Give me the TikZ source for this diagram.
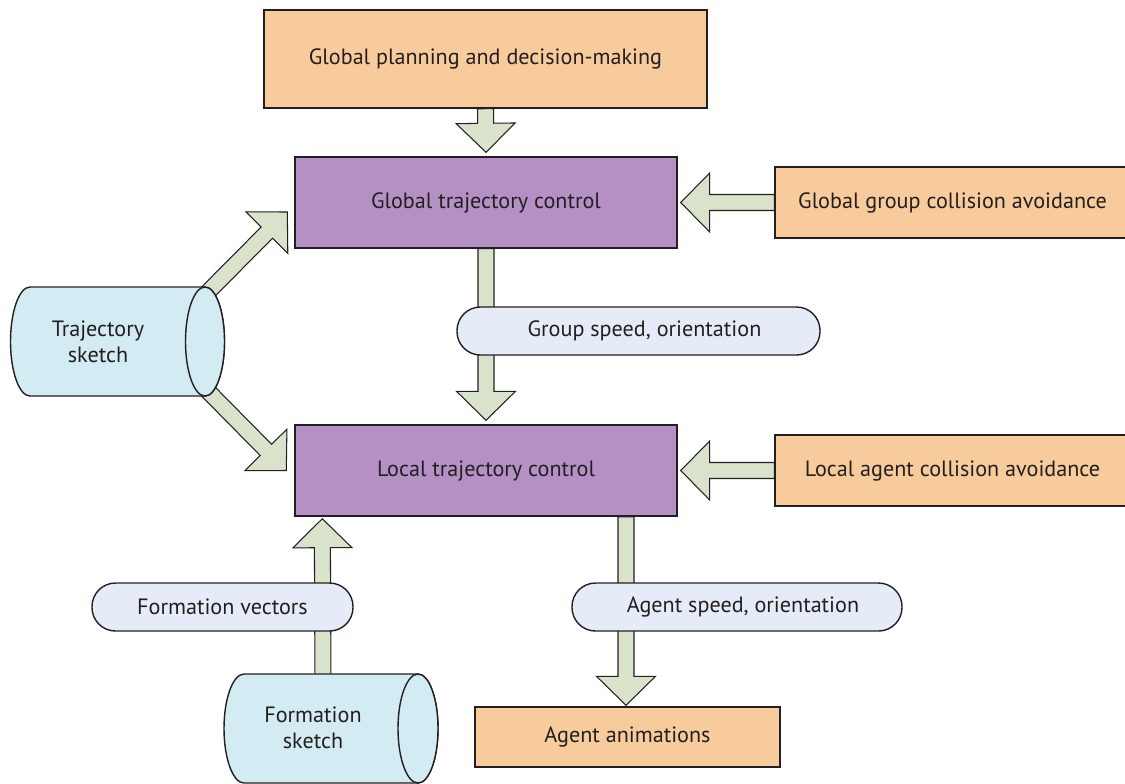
\documentclass[tikz,border=0pt]{standalone}
\usepackage{fontspec}
\setmainfont{PT Sans}
\usetikzlibrary{calc,backgrounds}
\definecolor{boxorange}{RGB}{247,203,156}
\definecolor{ctrlpurple}{RGB}{181,144,196}
\definecolor{pillblue}{RGB}{230,236,247}
\definecolor{cylblue}{RGB}{211,235,242}
\definecolor{arrowgreen}{RGB}{217,227,203}
\definecolor{edgegray}{RGB}{35,31,32}

\tikzset{
  every node/.style={font=\fontsize{12.6}{15}\selectfont, text=edgegray},
  planbox/.style={draw=edgegray, fill=boxorange, line width=0.8pt},
  ctrlbox/.style={draw=edgegray, fill=ctrlpurple, line width=0.8pt,
    minimum width=7.64cm, minimum height=1.82cm},
  collbox/.style={draw=edgegray, fill=boxorange, line width=0.8pt,
    minimum width=7.2cm, minimum height=1.42cm},
  infopill/.style={draw=edgegray, fill=pillblue, line width=0.8pt,
    rounded corners=0.47cm, minimum height=0.96cm},
  cylfill/.style={draw=edgegray, fill=cylblue, line width=0.8pt},
  fatarrow/.style={draw=edgegray, fill=arrowgreen, line width=0.6pt}
}

% block arrow from #1 to the tip #2
\newcommand{\fatarrow}[2]{%
  \path (#1) coordinate (fa-s) (#2) coordinate (fa-e);
  \path ($(fa-e)!0.58cm!(fa-s)$) coordinate (fa-h);
  \draw[fatarrow] ($(fa-s)!0.16cm!90:(fa-e)$) -- ($(fa-h)!0.16cm!-90:(fa-s)$)
    -- ($(fa-h)!0.59cm!-90:(fa-s)$) -- (fa-e) -- ($(fa-h)!0.59cm!90:(fa-s)$)
    -- ($(fa-h)!0.16cm!90:(fa-s)$) -- ($(fa-s)!0.16cm!-90:(fa-e)$) -- cycle;
}

\begin{document}
\begin{tikzpicture}

\useasboundingbox (0,0) rectangle (22.5,-15.66);

% ---- Boxes ----
\node[planbox, minimum width=8.86cm, minimum height=1.96cm] (plan) at (9.71,-1.18)
  {Global planning and decision-making};
\node[ctrlbox] (gtraj) at (9.72,-4.05) {Global trajectory control};
\node[collbox] (gcoll) at (19.1,-4.05) {\hspace*{-0.1cm}Global group collision avoidance};
\node[ctrlbox] (ltraj) at (9.72,-9.41) {Local trajectory control};
\node[collbox] (lcoll) at (19.1,-9.41) {\hspace*{-0.1cm}Local agent collision avoidance};
\node[planbox, minimum width=6.1cm, minimum height=1.2cm] (anim) at (12.55,-14.74)
  {Agent animations};

% ---- Pills ----
\node[infopill, minimum width=7.26cm] (gspeed) at (12.77,-6.62)
  {\hspace*{0.24cm}Group speed, orientation};
\node[infopill, minimum width=5.22cm] (fvec) at (4.45,-12.14) {Formation vectors};
\node[infopill, minimum width=6.6cm] (aspeed) at (14.74,-12.14)
  {\hspace*{0.24cm}Agent speed, orientation};

% ---- Sketch cylinders ----
\draw[cylfill] (4.1,-5.74) -- (0.6,-5.74)
  arc[start angle=90, end angle=270, x radius=0.39, y radius=1.09]
  -- (4.1,-7.92) arc[start angle=-90, end angle=90, x radius=0.39, y radius=1.09] -- cycle;
\draw[cylfill] (4.1,-6.83) ellipse [x radius=0.39, y radius=1.09];
\node[align=center] (tsketch) at (1.96,-6.83) {Trajectory\\sketch};

\draw[cylfill] (8.36,-13.48) -- (4.88,-13.48)
  arc[start angle=90, end angle=270, x radius=0.4, y radius=1.09]
  -- (8.36,-15.66) arc[start angle=-90, end angle=90, x radius=0.4, y radius=1.09] -- cycle;
\draw[cylfill] (8.36,-14.57) ellipse [x radius=0.4, y radius=1.09];
\node[align=center] (fsketch) at (6.26,-14.56) {Formation\\sketch};

% ---- Block arrows ----
\begin{scope}[on background layer]
\fatarrow{plan.south}{$(gtraj.north)+(0,0.08)$}
\fatarrow{gtraj.south}{$(ltraj.north)+(0,0.08)$}
\fatarrow{gcoll.west}{$(gtraj.east)+(0.06,0)$}
\fatarrow{lcoll.west}{$(ltraj.east)+(0.06,0)$}
\fatarrow{$(tsketch)+(1.84,0.63)$}{$(gtraj.west)+(-0.14,-0.19)$}
\fatarrow{$(tsketch)+(1.84,-0.63)$}{$(ltraj.west)+(-0.16,0)$}
\fatarrow{$(fsketch)+(0.2,0.76)$}{$(ltraj.south west)+(0.56,-0.04)$}
\fatarrow{$(anim.north |- ltraj.south)+(-0.03,0)$}{$(anim.north)+(-0.03,0.02)$}
\end{scope}

\end{tikzpicture}
\end{document}
